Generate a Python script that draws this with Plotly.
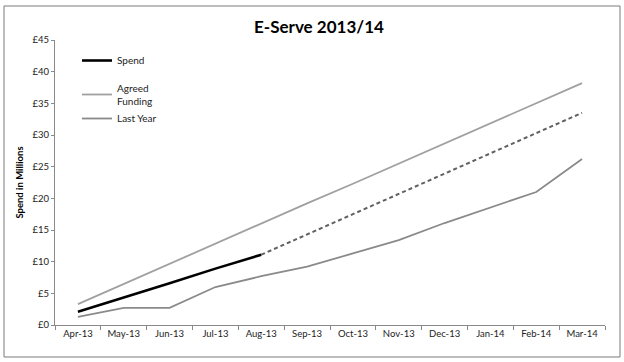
import plotly.graph_objects as go

months = ["Apr-13", "May-13", "Jun-13", "Jul-13", "Aug-13", "Sep-13",
          "Oct-13", "Nov-13", "Dec-13", "Jan-14", "Feb-14", "Mar-14"]
spend = [2.1, 4.3, 6.6, 8.9, 11.1]
forecast_months = months[4:]
forecast = [11.1, 14.3, 17.5, 20.7, 23.9, 27.1, 30.3, 33.5]
agreed_funding = [3.3, 6.5, 9.6, 12.8, 16.0, 19.2, 22.3, 25.5, 28.7, 31.8, 35.0, 38.2]
last_year = [1.3, 2.7, 2.7, 6.0, 7.7, 9.2, 11.3, 13.4, 16.1, 18.5, 21.0, 26.2]

FONT = "Lato"
L, R, T, B = 55, 19, 40, 37
W, H = 624, 362
pw, ph = W - L - R, H - T - B

fig = go.Figure()
fig.add_trace(go.Scatter(x=months[:5], y=spend, mode="lines", name="Spend",
                         line=dict(color="#000000", width=2.6), legendgroup="a"))
fig.add_trace(go.Scatter(x=months, y=agreed_funding, mode="lines", name="Agreed<br>Funding",
                         line=dict(color="#a0a0a0", width=1.8), legendgroup="b"))
fig.add_trace(go.Scatter(x=months, y=last_year, mode="lines", name="Last Year",
                         line=dict(color="#8a8a8a", width=1.8), legendgroup="b"))
fig.add_trace(go.Scatter(x=forecast_months, y=forecast, mode="lines", name="Forecast",
                         line=dict(color="#606060", width=2, dash="4px,3px"), showlegend=False))

def px_x(p):
    return (p - L) / pw

def px_y(p):
    return (H - B - p) / ph

fig.update_layout(
    width=W, height=H,
    margin=dict(l=L, r=R, t=T, b=B),
    paper_bgcolor="white", plot_bgcolor="white",
    font=dict(family=FONT, color="#222222", size=10),
    title=dict(text="<b>E-Serve 2013/14</b>", x=319 / W, xanchor="center",
               y=1 - 27 / H, yanchor="middle", yref="container",
               font=dict(family=FONT, size=17, color="#000000")),
    showlegend=True,
    legend=dict(x=px_x(77), y=px_y(46), xanchor="left", yanchor="top",
                bgcolor="rgba(0,0,0,0)", font=dict(size=10, family=FONT),
                tracegroupgap=10, itemwidth=30),
    xaxis=dict(type="category", categoryorder="array", categoryarray=months,
               range=[-0.5, 11.5], showgrid=False, showline=True,
               linecolor="#8a8a8a", linewidth=1, ticks="outside", ticklen=4,
               tickcolor="#8a8a8a", tickson="boundaries",
               tickfont=dict(size=9.5, family=FONT, color="#222222")),
    yaxis=dict(range=[0, 45], dtick=5, tickprefix="£", showgrid=False,
               showline=True, linecolor="#8a8a8a", linewidth=1,
               ticks="outside", ticklen=3, tickcolor="#8a8a8a",
               zeroline=False,
               tickfont=dict(size=9.5, family=FONT, color="#222222"),
               title=dict(text="<b>Spend in Millions</b>", standoff=7,
                          font=dict(size=9.5, family=FONT, color="#000000"))),
    shapes=[dict(type="rect", xref="paper", yref="paper",
                 x0=px_x(4), x1=px_x(620), y0=px_y(357), y1=px_y(6),
                 line=dict(color="#7a7a7a", width=1), fillcolor="rgba(0,0,0,0)",
                 layer="below")],
)

fig.write_html("out.html")
